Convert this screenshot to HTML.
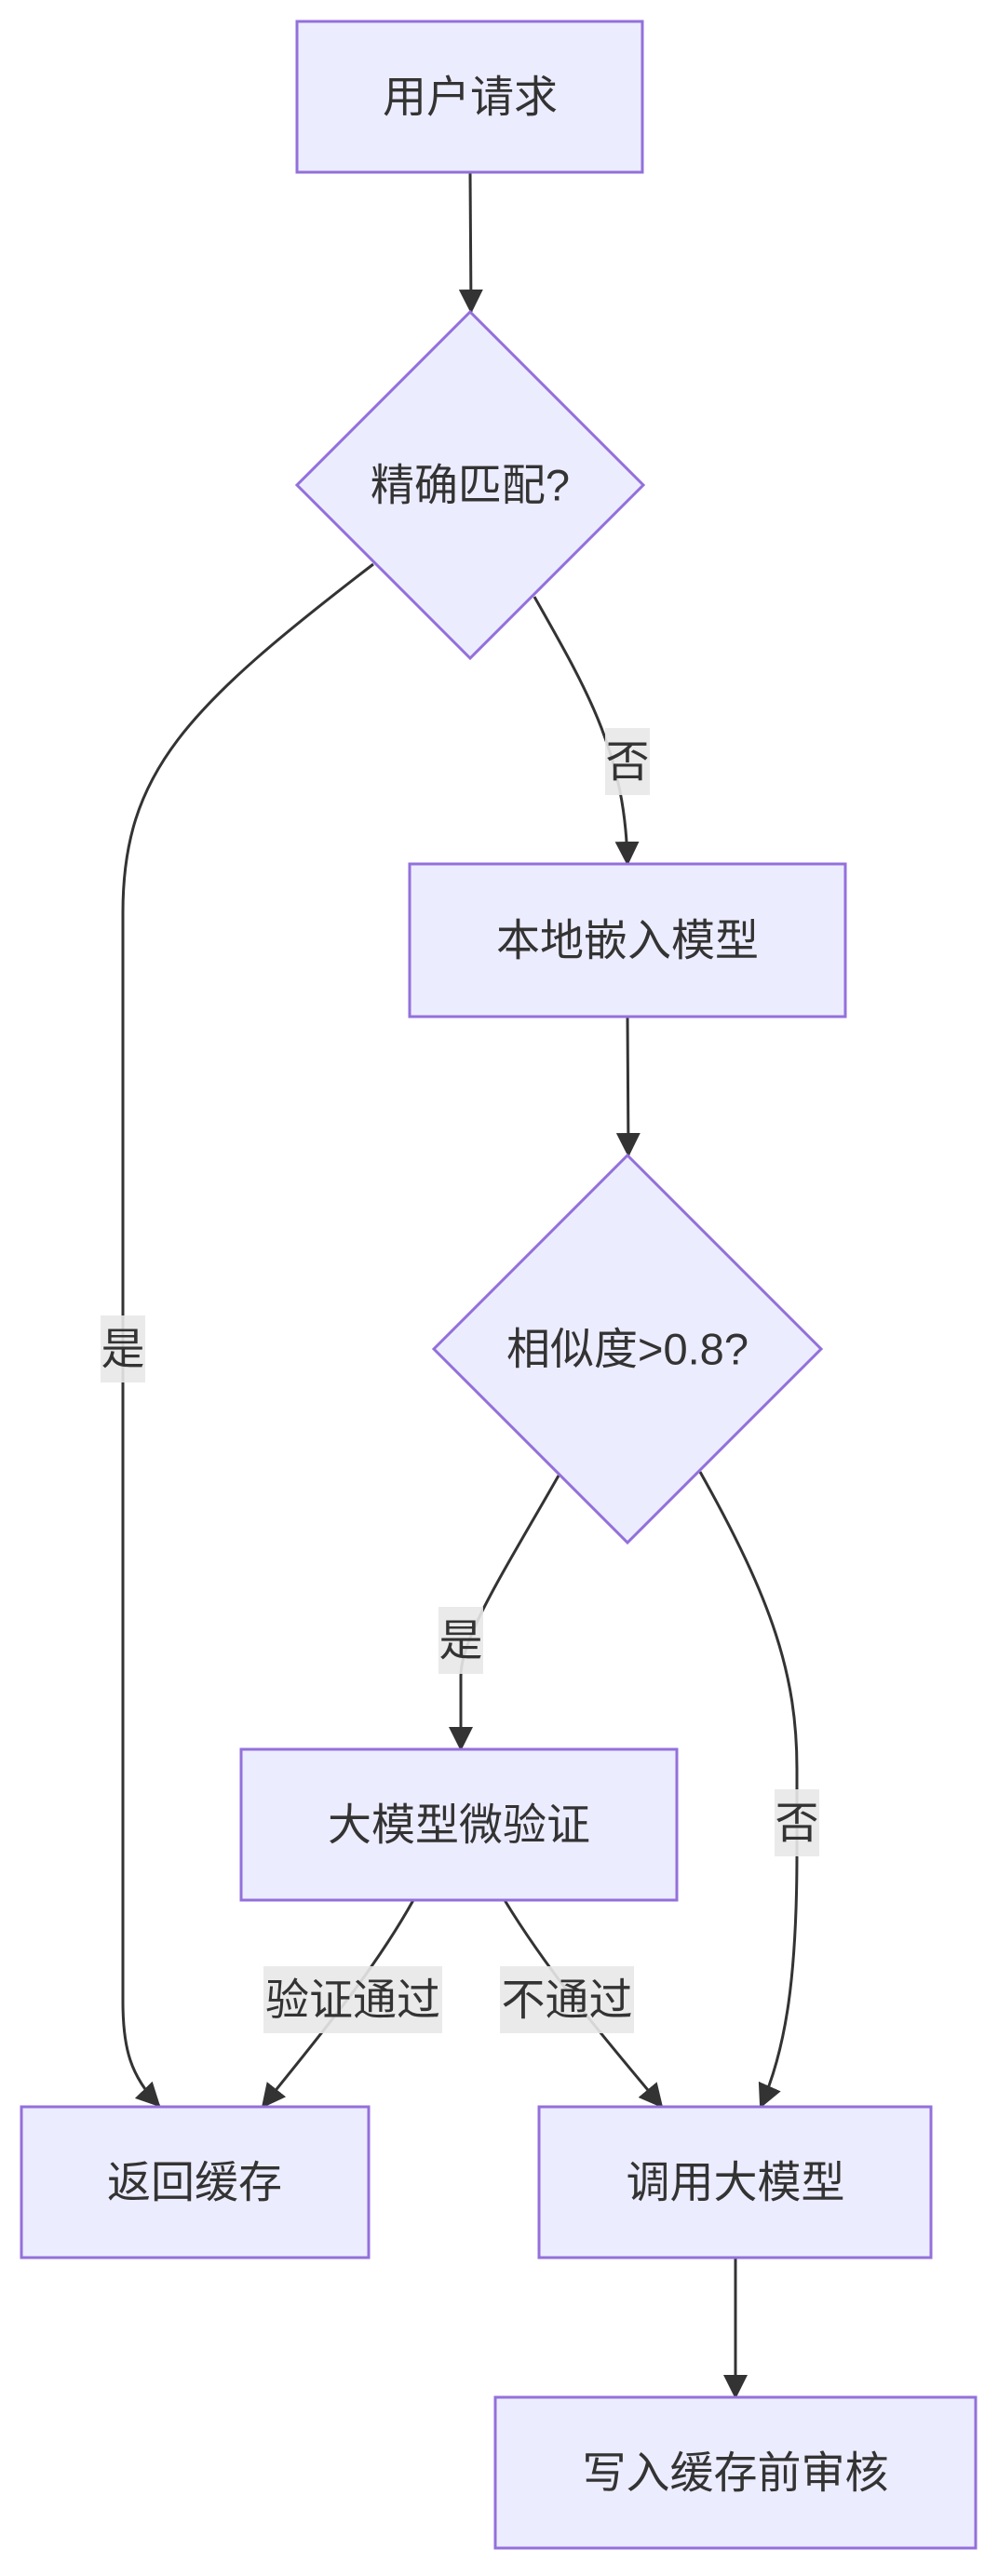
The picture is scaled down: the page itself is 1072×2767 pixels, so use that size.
<!DOCTYPE html>
<html><head><meta charset="utf-8"><style>
html,body{margin:0;padding:0;background:#fff;}
svg text{font-family:"Liberation Sans","Noto Sans CJK SC",sans-serif;font-size:47px;fill:#333;}
</style></head><body>
<svg width="1072" height="2762" viewBox="0 0 1072 2762" xmlns="http://www.w3.org/2000/svg">
<defs><marker id="a" viewBox="0 0 10 10" refX="9" refY="5" markerWidth="8" markerHeight="8" markerUnits="userSpaceOnUse" orient="auto" style="overflow:visible"><path d="M0,0 L10,5 L0,10 z" fill="#333" transform="scale(2.6) translate(-6,-5) translate(0,0)"/></marker>
<marker id="m" markerWidth="26" markerHeight="26" refX="24" refY="13" orient="auto" markerUnits="userSpaceOnUse"><path d="M0,0 L26,13 L0,26 z" fill="#333"/></marker></defs>
<g fill="none" stroke="#333" stroke-width="3">
<path d="M505,185 L506,335" marker-end="url(#m)"/>
<path d="M401,606 C200,760 132,830 132,980 L132,2150 C132,2200 140,2230 171,2262" marker-end="url(#m)"/>
<path d="M574,641 C630,740 672,810 674,928" marker-end="url(#m)"/>
<path d="M674,1092 L675,1241" marker-end="url(#m)"/>
<path d="M600,1585 C540,1690 495,1760 495,1800 L495,1879" marker-end="url(#m)"/>
<path d="M752,1581 C830,1720 856,1800 856,1900 L856,1990 C856,2120 845,2200 817,2263" marker-end="url(#m)"/>
<path d="M444,2041 C400,2120 340,2190 282,2263" marker-end="url(#m)"/>
<path d="M542,2041 C590,2120 650,2190 711,2263" marker-end="url(#m)"/>
<path d="M790,2425 L790,2575" marker-end="url(#m)"/>
</g>
<g fill="#ececff" stroke="#9370db" stroke-width="3">
<rect x="319" y="23" width="371" height="162"/>
<polygon points="505,335 691,521 505,707 319,521"/>
<rect x="440" y="928" width="468" height="164"/>
<polygon points="674,1241 882,1449 674,1657 466,1449"/>
<rect x="259" y="1879" width="468" height="162"/>
<rect x="23" y="2263" width="373" height="162"/>
<rect x="579" y="2263" width="421" height="162"/>
<rect x="532" y="2575" width="516" height="162"/>
</g>
<g fill="#e8e8e8" opacity="0.9">
<rect x="650" y="782" width="48" height="72"/>
<rect x="108" y="1413" width="48" height="72"/>
<rect x="471" y="1726" width="48" height="72"/>
<rect x="832" y="1922" width="48" height="72"/>
<rect x="283" y="2112" width="192" height="72"/>
<rect x="537" y="2112" width="144" height="72"/>
</g>
<g text-anchor="middle" dominant-baseline="central">
<text x="505" y="104">用户请求</text>
<text x="505" y="521">精确匹配?</text>
<text x="674" y="1010">本地嵌入模型</text>
<text x="674" y="1449">相似度&gt;0.8?</text>
<text x="493" y="1960">大模型微验证</text>
<text x="209" y="2344">返回缓存</text>
<text x="790" y="2344">调用大模型</text>
<text x="790" y="2656">写入缓存前审核</text>
<text x="674" y="818">否</text>
<text x="132" y="1449">是</text>
<text x="495" y="1762">是</text>
<text x="856" y="1958">否</text>
<text x="379" y="2148">验证通过</text>
<text x="609" y="2148">不通过</text>
</g>
</svg>
</body></html>
